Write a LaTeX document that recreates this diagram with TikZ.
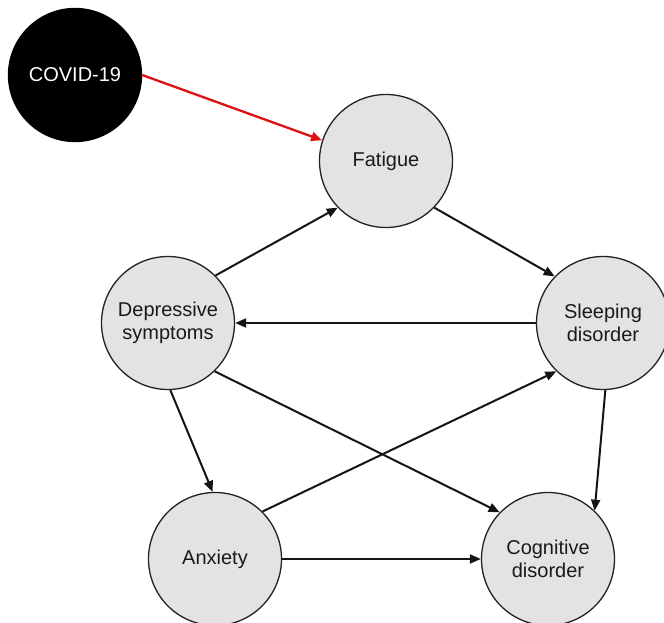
\documentclass[tikz,border=0pt]{standalone}
\usepackage{fontspec}
\setmainfont{Liberation Sans}
\usetikzlibrary{arrows.meta}
\definecolor{nodefill}{HTML}{E3E3E3}
\definecolor{nodeline}{HTML}{222222}
\definecolor{txtcol}{HTML}{1A1A1A}
\definecolor{redarrow}{HTML}{DD1111}
\tikzset{
  circnode/.style={circle, draw=nodeline, line width=1.3pt, fill=nodefill,
    minimum size=133pt, inner sep=0pt, align=center, text=txtcol,
    font=\fontsize{20}{23}\selectfont},
  covidnode/.style={circnode, fill=black, draw=black, text=white},
  conn/.style={line width=2pt, draw=black!92,
    -{Triangle[length=11pt,width=9pt]}},
  redconn/.style={conn, line width=2.3pt, draw=redarrow, fill=redarrow}
}
\begin{document}
\begin{tikzpicture}[x=1pt,y=-1pt]
\useasboundingbox (0,0) rectangle (664,623);
\fill[white] (0,0) rectangle (664,623);
\node[covidnode] (covid) at (75,75) {COVID-19};
\node[circnode] (fat) at (386,161) {Fatigue};
\node[circnode] (dep) at (168,323) {Depressive\\symptoms};
\node[circnode] (sle) at (603,323) {Sleeping\\disorder};
\node[circnode] (anx) at (215,559) {Anxiety};
\node[circnode] (cog) at (548,559) {Cognitive\\disorder};
\draw[redconn] (covid.east) -- (fat.162);
\draw[conn] (dep.45) -- (fat.224);
\draw[conn] (fat.-44) -- (sle.136);
\draw[conn] (sle.180) -- (dep.0);
\draw[conn] (anx.45) -- (sle.226);
\draw[conn] (dep.-46) -- (cog.136);
\draw[conn] (dep.272) -- (anx.92);
\draw[conn] (anx.0) -- (cog.180);
\draw[conn] (sle.272) -- (cog.46);
\end{tikzpicture}
\end{document}
